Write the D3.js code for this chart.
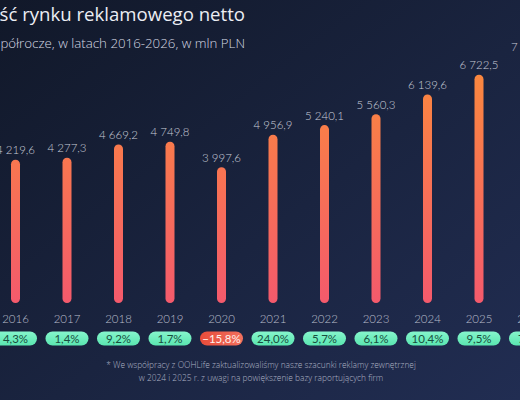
<!DOCTYPE html>
<html>
<head>
<meta charset="utf-8">
<script src="https://cdn.jsdelivr.net/npm/d3@7"></script>
<style>
  html, body { margin: 0; padding: 0; background: #161e34; overflow: hidden; }
  svg { display: block; font-family: Lato, "Open Sans", sans-serif; }
</style>
</head>
<body>
<script>
// Data (2026 is mostly cut off, value estimated)
const years = ["2016", "2017", "2018", "2019", "2020", "2021", "2022", "2023", "2024", "2025", "2026"];
const values = [4219.6, 4277.3, 4669.2, 4749.8, 3997.6, 4956.9, 5240.1, 5560.3, 6139.6, 6722.5, 7250.0];
const growth = [4.3, 1.4, 9.2, 1.7, -15.8, 24.0, 5.7, 6.1, 10.4, 9.5, 7.8];
const footnote = [
  "* We współpracy z OOHLife zaktualizowaliśmy nasze szacunki reklamy zewnętrznej",
  "w 2024 i 2025 r. z uwagi na powiększenie bazy raportujących firm"
];

const width = 520;
const height = 400;

const pl = d3.formatLocale({ decimal: ",", thousands: "\u00a0", grouping: [3], currency: ["", " zł"] });
const fmtValue = pl.format(",.1f");
const fmtPct = pl.format(".1f");

const svg = d3
  .select("body")
  .append("svg")
  .attr("width", width)
  .attr("height", height);

const defs = svg.append("defs");

// background
const bg = defs.append("linearGradient").attr("id", "bg")
  .attr("x1", "0%").attr("y1", "0%").attr("x2", "100%").attr("y2", "100%");
bg.append("stop").attr("offset", "0%").attr("stop-color", "#111829");
bg.append("stop").attr("offset", "55%").attr("stop-color", "#1a2440");
bg.append("stop").attr("offset", "100%").attr("stop-color", "#212d52");

// bar gradient, orange on top to pink red at the bottom
const barGrad = defs.append("linearGradient").attr("id", "bar")
  .attr("gradientUnits", "userSpaceOnUse")
  .attr("x1", 0).attr("y1", 60).attr("x2", 0).attr("y2", 303);
barGrad.append("stop").attr("offset", "0%").attr("stop-color", "#fb8a3c");
barGrad.append("stop").attr("offset", "100%").attr("stop-color", "#f45a6c");

const pillUp = defs.append("linearGradient").attr("id", "pillUp")
  .attr("x1", 0).attr("y1", 0).attr("x2", 0).attr("y2", 1);
pillUp.append("stop").attr("offset", "0%").attr("stop-color", "#86f5cc");
pillUp.append("stop").attr("offset", "100%").attr("stop-color", "#5ae6b0");

const pillDown = defs.append("linearGradient").attr("id", "pillDown")
  .attr("x1", 0).attr("y1", 0).attr("x2", 1).attr("y2", 0);
pillDown.append("stop").attr("offset", "0%").attr("stop-color", "#e84c3a");
pillDown.append("stop").attr("offset", "100%").attr("stop-color", "#f2705e");

svg.append("rect").attr("width", width).attr("height", height).attr("fill", "url(#bg)");

// Title (slide is cropped on the left)
svg.append("text")
  .attr("x", 245).attr("y", 21)
  .attr("text-anchor", "end")
  .attr("fill", "#eceef4")
  .attr("font-family", "'Open Sans', sans-serif")
  .attr("font-size", 18.6)
  .text("Wartość rynku reklamowego netto");

svg.append("text")
  .attr("x", 245).attr("y", 48)
  .attr("text-anchor", "end")
  .attr("fill", "#d4d8e2")
  .attr("font-family", "'Open Sans', sans-serif")
  .attr("font-size", 13.3)
  .attr("font-weight", 300)
  .text("I półrocze, w latach 2016-2026, w mln PLN");

// Scales
const xscale = d3.scalePoint().domain(years).range([15.5, 530.5]);
const yscale = d3.scaleLinear().domain([0, 7000]).range([303, 65.3]);

const barW = 9;
const g = svg.append("g");

const col = g.selectAll("g.col")
  .data(years.map((y, i) => ({ year: y, value: values[i], growth: growth[i] })))
  .join("g")
  .attr("class", "col")
  .attr("transform", (d) => `translate(${xscale(d.year)},0)`);

col.append("rect")
  .attr("x", -barW / 2)
  .attr("width", barW)
  .attr("y", (d) => yscale(d.value))
  .attr("height", (d) => yscale(0) - yscale(d.value))
  .attr("rx", barW / 2)
  .attr("fill", "url(#bar)");

col.append("text")
  .attr("y", (d) => yscale(d.value) - 5.5)
  .attr("text-anchor", "middle")
  .attr("fill", "#c9cdd9")
  .attr("font-size", 11.5)
  .attr("font-weight", 300)
  .text((d) => fmtValue(d.value));

col.append("text")
  .attr("y", 323)
  .attr("text-anchor", "middle")
  .attr("fill", "#b9bdcb")
  .attr("font-size", 11.5)
  .attr("font-weight", 300)
  .text((d) => d.year);

col.append("rect")
  .attr("x", -21.5).attr("y", 331.5)
  .attr("width", 43).attr("height", 14)
  .attr("rx", 7)
  .attr("fill", (d) => (d.growth < 0 ? "url(#pillDown)" : "url(#pillUp)"));

col.append("text")
  .attr("y", 342.5)
  .attr("text-anchor", "middle")
  .attr("font-size", 11.5)
  .attr("fill", (d) => (d.growth < 0 ? "#fff1ee" : "#184e3e"))
  .text((d) => fmtPct(d.growth) + "%");

// Footnote
svg.append("g")
  .selectAll("text")
  .data(footnote)
  .join("text")
  .attr("x", 261)
  .attr("y", (d, i) => 368 + i * 13)
  .attr("text-anchor", "middle")
  .attr("fill", "#aeb3c4")
  .attr("font-family", "'Open Sans', sans-serif")
  .attr("font-size", 8.4)
  .attr("font-weight", 300)
  .text((d) => d);
</script>
</body>
</html>
